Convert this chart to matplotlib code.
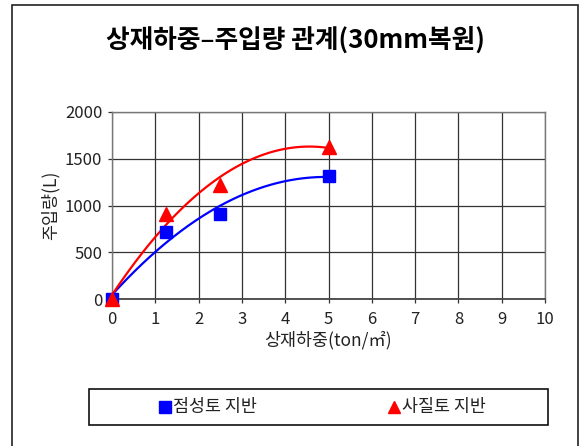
import numpy as np
import matplotlib
matplotlib.use("Agg")
import matplotlib.pyplot as plt
from matplotlib.patches import Rectangle
from matplotlib.lines import Line2D

plt.rcParams['font.family'] = ['Noto Sans CJK KR', 'DejaVu Sans']

title = "상재하중–주입량 관계(30mm복원)"
x_label = "상재하중(ton/㎡)"
y_label = "주입량(L)"

load = [0, 1.25, 2.5, 5]
clay = [0, 720, 910, 1320]      # 점성토 지반
sand = [0, 910, 1220, 1630]     # 사질토 지반
series_names = ["점성토 지반", "사질토 지반"]

x_ticks = list(range(0, 11))
y_ticks = [0, 500, 1000, 1500, 2000]

fig = plt.figure(figsize=(5.8, 4.46), dpi=100)

# outer chart frame
fig.patches.append(Rectangle((12 / 580, -0.01), (578 - 12) / 580, 1 - 5 / 446 + 0.01,
                             transform=fig.transFigure, fill=False,
                             edgecolor="#222222", linewidth=1.2))

ax = fig.add_axes([112 / 580, 1 - 299 / 446, (545 - 112) / 580, (299 - 112) / 446])
ax.set_xlim(0, 10)
ax.set_ylim(0, 2000)
ax.set_xticks(x_ticks)
ax.set_yticks(y_ticks)
ax.grid(True, color="#333333", linewidth=0.9)
ax.set_axisbelow(True)
for s in ax.spines.values():
    s.set_color("#777777")
    s.set_linewidth(1.0)
ax.spines['bottom'].set_color("#444444")
ax.spines['bottom'].set_linewidth(1.3)
ax.tick_params(axis='both', direction='out', length=3, width=0.9,
               colors="#333333", labelsize=12, labelcolor="#222222")
ax.tick_params(axis='x', pad=6)
ax.tick_params(axis='y', pad=4)

# quadratic trend lines through the measured points
xs = np.linspace(0, 5, 200)
for vals, col in [(clay, "#0000ff"), (sand, "#ff0000")]:
    c = np.polyfit(load, vals, 2)
    ax.plot(xs, np.polyval(c, xs), color=col, linewidth=1.6, clip_on=False, zorder=3)

ax.plot(load, clay, linestyle="none", marker="s", markersize=9, color="#0000ff",
        clip_on=False, zorder=4)
ax.plot(load, sand, linestyle="none", marker="^", markersize=10, color="#ff0000",
        clip_on=False, zorder=5)

ax.set_xlabel(x_label, fontsize=12.5, labelpad=2, color="#222222")
ax.set_ylabel(y_label, fontsize=12.5, labelpad=4, color="#222222")

fig.text(295 / 580, 1 - 40 / 446, title, ha="center", va="center", fontsize=18.5,
         fontweight="bold", color="#000000")

# legend box
lx0, lx1, ly0, ly1 = 89 / 580, 548 / 580, 1 - 425 / 446, 1 - 389 / 446
fig.patches.append(Rectangle((lx0, ly0), lx1 - lx0, ly1 - ly0, transform=fig.transFigure,
                             fill=False, edgecolor="#111111", linewidth=1.2))
ymid = (ly0 + ly1) / 2
fig.lines.append(Line2D([165 / 580], [ymid], marker="s", markersize=8.5, color="#0000ff",
                        linestyle="none", transform=fig.transFigure))
fig.text(173 / 580, ymid, series_names[0], ha="left", va="center", fontsize=12.5,
         color="#222222")
fig.lines.append(Line2D([394 / 580], [ymid], marker="^", markersize=9, color="#ff0000",
                        linestyle="none", transform=fig.transFigure))
fig.text(402 / 580, ymid, series_names[1], ha="left", va="center", fontsize=12.5,
         color="#222222")

fig.savefig("out.png", dpi=100)
